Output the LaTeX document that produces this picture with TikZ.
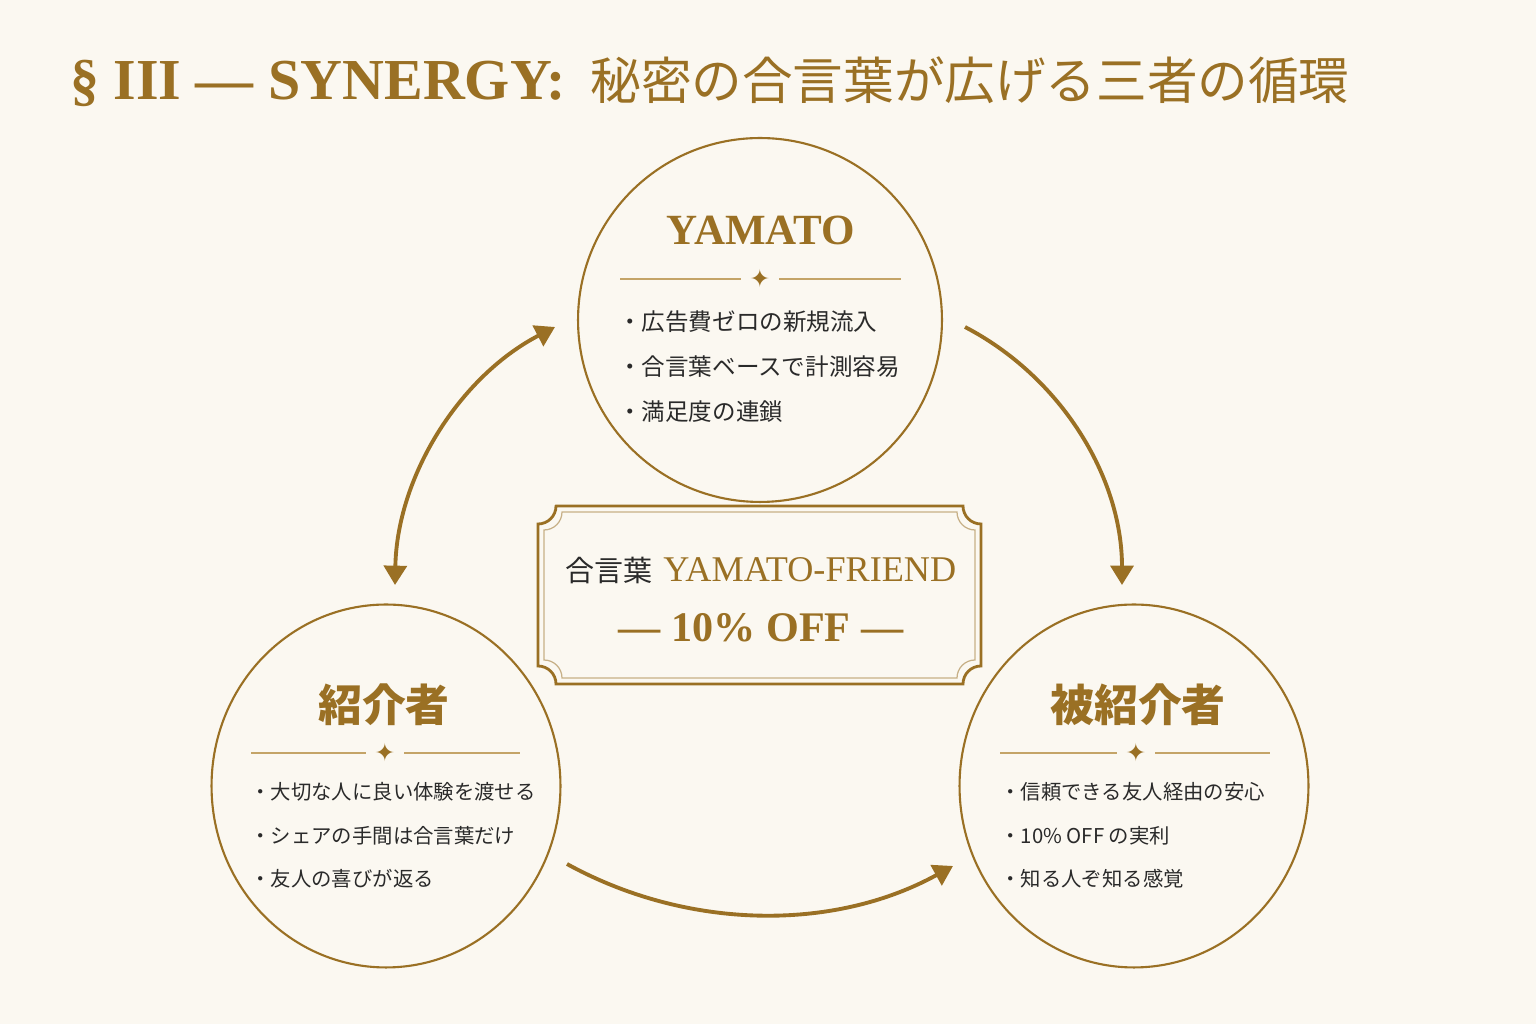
\documentclass[tikz,border=0pt]{standalone}
\usepackage{fontspec}
\setmainfont{Liberation Serif}
\newfontfamily\jp{Noto Sans CJK JP}
\newfontfamily\sym{DejaVu Sans}
\usepackage{xcolor}
\usepackage{tikz}
\usetikzlibrary{shapes, arrows.meta, positioning}
\definecolor{gold}{HTML}{9A7024}
\definecolor{paper}{HTML}{FBF8F1}
\definecolor{ink}{HTML}{2A2A2A}
\definecolor{rulegold}{HTML}{C4A468}

\begin{document}
\begin{tikzpicture}
  [
    x=0.02cm, y=0.02cm,
    Ring/.style={ellipse, draw=gold, line width=1.2pt, inner sep=0pt},
    Head/.style={text=gold, inner sep=0pt, font=\jp\bfseries\fontsize{25}{30}\selectfont},
    Item/.style={anchor=west, inner sep=0pt, text=ink, font=\jp\fontsize{11.6}{14}\selectfont},
    Spark/.style={fill=paper, text=gold, inner xsep=5pt, inner ysep=1pt, font=\sym\fontsize{14}{14}\selectfont},
    Rule/.style={draw=rulegold, line width=0.6pt},
    Frame/.style={draw=gold, line width=1.6pt},
    Thin/.style={draw=gold!55, line width=0.7pt},
    Flow/.style={draw=gold, line width=2.2pt, -{Triangle[length=11pt, width=13pt]}}
  ]
  \fill[paper] (0,0) rectangle (1536,1024);
  % Title
  \node[anchor=base west, inner sep=0pt, text=gold] (title) at (70,924)
    {\bfseries\fontsize{33}{40}\selectfont § III — SYNERGY:\hspace{14pt}{\jp\mdseries\fontsize{28.8}{34}\selectfont 秘密の合言葉が広げる三者の循環}};
  % Circles
  \node[Ring, minimum width=7.28cm, minimum height=7.28cm] (yamato) at (760,704) {};
  \node[Ring, minimum width=6.98cm, minimum height=7.26cm] (referrer) at (386,238) {};
  \node[Ring, minimum width=6.98cm, minimum height=7.26cm] (referee) at (1134,238) {};
  % YAMATO
  \node[anchor=base, inner sep=0pt, text=gold, font=\bfseries\fontsize{24.5}{28}\selectfont] (yamatoT) at (761,779) {YAMATO};
  \node[Spark] (s1) at (760,745) {✦};
  \draw[Rule] (620,745) -- (s1) -- (901,745);
  \node[Item, font=\jp\fontsize{13.4}{16}\selectfont] (y1) at (618,702) {・広告費ゼロの新規流入};
  \node[Item, font=\jp\fontsize{13.4}{16}\selectfont] (y2) at (618,657) {・合言葉ベースで計測容易};
  \node[Item, font=\jp\fontsize{13.4}{16}\selectfont] (y3) at (618,612) {・満足度の連鎖};
  % Referrer
  \node[Head] (referrerT) at (384,319) {紹介者};
  \node[Spark] (s2) at (385,271) {✦};
  \draw[Rule] (251,271) -- (s2) -- (520,271);
  \node[Item] (r1) at (250,232) {・大切な人に良い体験を渡せる};
  \node[Item] (r2) at (250,188) {・シェアの手間は合言葉だけ};
  \node[Item] (r3) at (250,145) {・友人の喜びが返る};
  % Referee
  \node[Head] (refereeT) at (1138,319) {被紹介者};
  \node[Spark] (s3) at (1136,271) {✦};
  \draw[Rule] (1000,271) -- (s3) -- (1270,271);
  \node[Item] (e1) at (1000,232) {・信頼できる友人経由の安心};
  \node[Item] (e2) at (1000,188) {・10\% OFF の実利};
  \node[Item] (e3) at (1000,145) {・知る人ぞ知る感覚};
  % Code frame
  \draw[Frame] (556,518) -- (963,518) arc (180:270:0.36cm) -- (981,358) arc (90:180:0.36cm)
    -- (556,340) arc (0:90:0.36cm) -- (538,500) arc (270:360:0.36cm) -- cycle;
  \draw[Thin] (562,512) -- (957,512) arc (180:270:0.36cm) -- (975,364) arc (90:180:0.36cm)
    -- (562,346) arc (0:90:0.36cm) -- (544,494) arc (270:360:0.36cm) -- cycle;
  \node[anchor=base, inner sep=0pt] (code) at (761,442)
    {{\jp\fontsize{16.5}{20}\selectfont\color{ink}合言葉}\hspace{6pt}{\fontsize{20.6}{24}\selectfont\color{gold}YAMATO-FRIEND}};
  \node[anchor=base, inner sep=0pt, text=gold, font=\bfseries\fontsize{24}{28}\selectfont] (off) at (761,382) {— 10\% OFF —};
  % Lines
  \coordinate (yOut) at (965,697);
  \coordinate (eIn) at (1122,439);
  \coordinate (rIn) at (395,439);
  \coordinate (yIn) at (555,697);
  \coordinate (rOut) at (567,160);
  \coordinate (eIn2) at (953,158);
  \draw[Flow] (yOut) .. controls (1061,647) and (1122,547) .. (eIn);
  \draw[Flow, {Triangle[length=11pt, width=13pt]}-{Triangle[length=11pt, width=13pt]}] (rIn) .. controls (397,547) and (459,647) .. (yIn);
  \draw[Flow] (rOut) .. controls (687,94) and (833,92) .. (eIn2);
\end{tikzpicture}
\end{document}
